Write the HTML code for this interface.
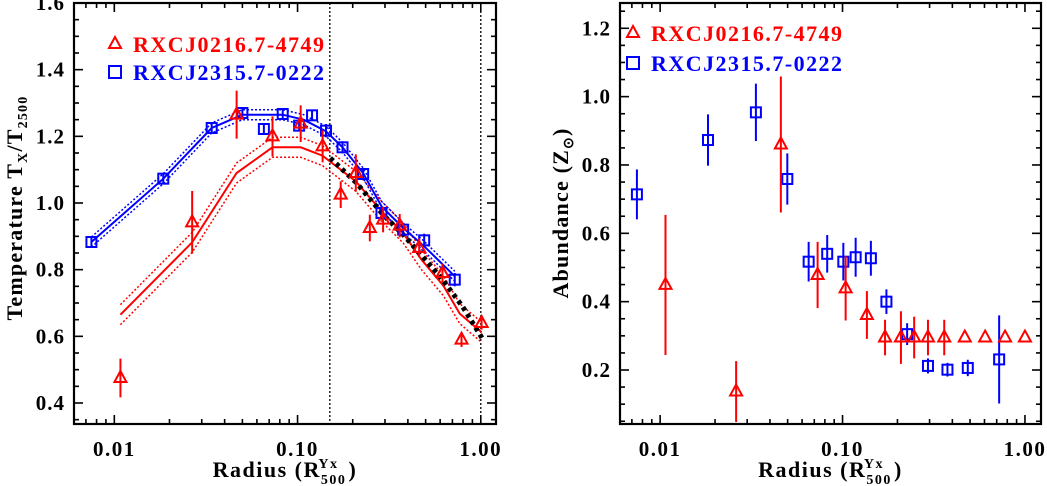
<!DOCTYPE html>
<html><head><meta charset="utf-8"><style>
body{margin:0;background:#fff}
svg{display:block}
text{font-family:"Liberation Serif",serif;font-weight:bold;fill:#000}
</style></head><body>
<svg id="c" width="1047" height="486" viewBox="0 0 1047 486" xmlns="http://www.w3.org/2000/svg"></svg>
<script>
// ---- Left panel data (temperature) ----
const tBlueR=[0.0075,0.0185,0.034,0.050,0.0655,0.083,0.102,0.12,0.143,0.176,0.228,0.287,0.377,0.491,0.721];
const tBlueT=[0.883,1.073,1.225,1.27,1.222,1.267,1.232,1.263,1.217,1.167,1.087,0.97,0.92,0.888,0.77];
const tBlueE=[0.012,0.015,0.012,0.015,0.015,0.015,0.015,0.015,0.02,0.018,0.018,0.02,0.018,0.02,0.02];
const tRedR=[0.0108,0.0266,0.0465,0.073,0.104,0.137,0.172,0.208,0.248,0.293,0.361,0.461,0.618,0.785,1.01];
const tRedT=[0.475,0.942,1.265,1.2,1.238,1.17,1.025,1.09,0.925,0.95,0.932,0.865,0.79,0.59,0.64];
const tRedE=[0.058,0.094,0.072,0.06,0.055,0.048,0.04,0.056,0.04,0.038,0.035,0.028,0.028,0.022,0.02];
const mRedR=[0.0108,0.0266,0.0465,0.073,0.104,0.137,0.208,0.293,0.377,0.475,0.625,0.768,1.01];
const mRedT=[0.665,0.882,1.09,1.167,1.167,1.142,1.065,0.97,0.91,0.83,0.752,0.668,0.612];
const mRedBand=0.03;
const mBlueR=[0.0075,0.0185,0.034,0.05,0.083,0.108,0.143,0.176,0.228,0.287,0.377,0.491,0.721];
const mBlueT=[0.883,1.073,1.225,1.265,1.265,1.25,1.215,1.167,1.09,0.99,0.925,0.87,0.78];
const mBlueBand=0.015;
const blackR=[0.151,0.21,0.293,0.377,0.48,0.618,0.794,1.03];
const blackT=[1.135,1.06,0.965,0.905,0.84,0.77,0.69,0.59];
const vLines=[0.15,1.0];
const leftYTicks=["0.4","0.6","0.8","1.0","1.2","1.4","1.6"];
const xTickLabels=["0.01","0.10","1.00"];
// ---- Right panel data (abundance) ----
const aBlueR=[0.00746,0.0183,0.0335,0.0498,0.0652,0.0824,0.101,0.118,0.143,0.174,0.226,0.294,0.376,0.486,0.722];
const aBlueZ=[0.714,0.873,0.954,0.759,0.517,0.54,0.517,0.53,0.527,0.4,0.305,0.212,0.201,0.206,0.231];
const aBlueE=[0.073,0.075,0.084,0.075,0.058,0.055,0.055,0.057,0.051,0.036,0.032,0.022,0.02,0.024,0.129];
const aRedR=[0.0107,0.0261,0.0459,0.073,0.104,0.136,0.171,0.209,0.247,0.294,0.361,0.468,0.605,0.778,1.0];
const aRedZ=[0.449,0.137,0.86,0.478,0.439,0.361,0.295,0.295,0.295,0.295,0.295,0.295,0.295,0.295,0.295];
const aRedE=[0.205,0.089,0.199,0.097,0.094,0.07,0.052,0.077,0.061,0.052,0.052,0,0,0,0];
const rightYTicks=["0.2","0.4","0.6","0.8","1.0","1.2"];

const NS="http://www.w3.org/2000/svg";
const svg=document.getElementById('c');
function mk(tag,attrs,parent){const e=document.createElementNS(NS,tag);for(const k in attrs)e.setAttribute(k,attrs[k]);(parent||svg).appendChild(e);return e;}

function panel(P){
  const g=mk('g',{});
  
  
  const X=v=>P.x0+(Math.log10(v)-P.lx0)/(P.lx1-P.lx0)*(P.x1-P.x0);
  const Y=v=>P.y1-(v-P.v0)/(P.v1-P.v0)*(P.y1-P.y0);
  P.X=X;P.Y=Y;P.g=g;
  const tk=mk('g',{stroke:'#000','stroke-width':1.6},g);
  
  
  for(let d=-3;d<=0;d++)for(let m=1;m<10;m++){const v=m*Math.pow(10,d);const lv=Math.log10(v);if(lv<P.lx0||lv>P.lx1)continue;const x=X(v);const L=m===1?9:5;
    mk('line',{x1:x,x2:x,y1:P.y1,y2:P.y1-L},tk);mk('line',{x1:x,x2:x,y1:P.y0,y2:P.y0+L},tk);}
  for(let i=0;;i++){const v=Math.ceil(P.v0/0.05)*0.05+i*0.05;if(v>P.v1+1e-9)break;const y=Y(v);const maj=Math.abs(v/0.2-Math.round(v/0.2))<1e-6;const L=maj?9:5;
    mk('line',{x1:P.x0,x2:P.x0+L,y1:y,y2:y},tk);mk('line',{x1:P.x1,x2:P.x1-L,y1:y,y2:y},tk);}
  P.yTicks.forEach(s=>{const t=mk('text',{x:P.x0-9,y:Y(parseFloat(s))+7,'text-anchor':'end','font-size':21,'letter-spacing':1},g);t.textContent=s;
    });
  xTickLabels.forEach(s=>{const t=mk('text',{x:X(parseFloat(s)),y:456,'text-anchor':'middle','font-size':21,'letter-spacing':1.5},g);t.textContent=s;
    });
  const xt=mk('text',{x:(P.x0+P.x1)/2,y:477,'text-anchor':'middle','font-size':22,'letter-spacing':1.5},g);
  xt.innerHTML='Radius (R<tspan dy="7" font-size="14">500</tspan><tspan dx="-28" dy="-16" font-size="14">Yx</tspan><tspan dx="10" dy="9">)</tspan>';
  
  return P;
}
function frame(P){const r=mk('rect',{x:P.x0,y:P.y0,width:P.x1-P.x0,height:P.y1-P.y0,fill:'none',stroke:'#000','stroke-width':2.2},P.g);
  }
function line(P,R,V,off,col,w,dash,name){const pts=R.map((r,i)=>P.X(r).toFixed(1)+','+P.Y(V[i]+off).toFixed(1)).join(' ');
  const a={points:pts,fill:'none',stroke:col,'stroke-width':w};if(dash)a['stroke-dasharray']=dash;const e=mk('polyline',a,P.g);
  }
function tri(P,R,V,E,col,name){R.forEach((r,i)=>{const x=P.X(r),y=P.Y(V[i]);const gg=mk('g',{stroke:col,fill:'none','stroke-width':2},P.g);
  
  if(E[i]>0)mk('line',{x1:x,x2:x,y1:P.Y(V[i]+E[i]),y2:P.Y(V[i]-E[i])},gg);
  mk('polygon',{points:`${x},${y-7} ${x-6},${y+4} ${x+6},${y+4}`},gg);});}
function sq(P,R,V,E,col,name){R.forEach((r,i)=>{const x=P.X(r),y=P.Y(V[i]);const gg=mk('g',{stroke:col,fill:'none','stroke-width':2},P.g);
  
  mk('line',{x1:x,x2:x,y1:P.Y(V[i]+E[i]),y2:P.Y(V[i]-E[i])},gg);
  mk('rect',{x:x-5,y:y-5,width:10,height:10},gg);});}
function legend(P,x,y1,y2){
  const a=mk('g',{},P.g);
  mk('polygon',{points:`${x},${y1-7} ${x-6},${y1+4} ${x+6},${y1+4}`,fill:'none',stroke:'#f00','stroke-width':2},a);
  const t1=mk('text',{x:x+18,y:y1+8,'font-size':22,textLength:191,lengthAdjust:'spacing',style:'fill:#f00'},a);t1.textContent='RXCJ0216.7-4749';
  const b=mk('g',{},P.g);
  mk('rect',{x:x-6,y:y2-6,width:12,height:12,fill:'none',stroke:'#00f','stroke-width':2},b);
  const t2=mk('text',{x:x+18,y:y2+8,'font-size':22,textLength:191,lengthAdjust:'spacing',style:'fill:#00f'},b);t2.textContent='RXCJ2315.7-0222';
}

// Left panel
const L=panel({name:'temperature-panel',x0:74,x1:496,y0:3,y1:424,lx0:-2.22,lx1:0.083,v0:0.337,v1:1.6,yTicks:leftYTicks});
vLines.forEach(v=>{const e=mk('line',{x1:L.X(v),x2:L.X(v),y1:L.y0,y2:L.y1,stroke:'#000','stroke-width':1.3,'stroke-dasharray':'2,2'},L.g);
  });
line(L,mRedR,mRedT,0,'#f00',2,null,'red-model-line');
line(L,mRedR,mRedT,mRedBand,'#f00',1.5,'2,2','red-model-upper');
line(L,mRedR,mRedT,-mRedBand,'#f00',1.5,'2,2','red-model-lower');
line(L,mBlueR,mBlueT,0,'#00f',2,null,'blue-model-line');
line(L,mBlueR,mBlueT,mBlueBand,'#00f',1.5,'2,2','blue-model-upper');
line(L,mBlueR,mBlueT,-mBlueBand,'#00f',1.5,'2,2','blue-model-lower');
line(L,blackR,blackT,0,'#000',5,'4,4','universal-profile-line');
sq(L,tBlueR,tBlueT,tBlueE,'#00f','blue-temperature-point');
tri(L,tRedR,tRedT,tRedE,'#f00','red-temperature-point');
frame(L);legend(L,115,44,72);
const ly=mk('text',{x:0,y:0,'text-anchor':'middle','font-size':22,'letter-spacing':1.2,transform:'translate(22,208) rotate(-90)'},L.g);
ly.innerHTML='Temperature T<tspan dy="5" font-size="14">X</tspan><tspan dy="-5">/T</tspan><tspan dy="5" font-size="14">2500</tspan>';


// Right panel
const R=panel({name:'abundance-panel',x0:620,x1:1041,y0:3,y1:424,lx0:-2.22,lx1:0.088,v0:0.042,v1:1.274,yTicks:rightYTicks});
sq(R,aBlueR,aBlueZ,aBlueE,'#00f','blue-abundance-point');
tri(R,aRedR,aRedZ,aRedE,'#f00','red-abundance-point');
frame(R);legend(R,633,33,63);
const ry=mk('text',{x:0,y:0,'text-anchor':'middle','font-size':22,'letter-spacing':1.2,transform:'translate(568,213) rotate(-90)'},R.g);
ry.innerHTML='Abundance (Z<tspan dy="5" font-size="14">⊙</tspan><tspan dy="-5">)</tspan>';

</script>
</body></html>
